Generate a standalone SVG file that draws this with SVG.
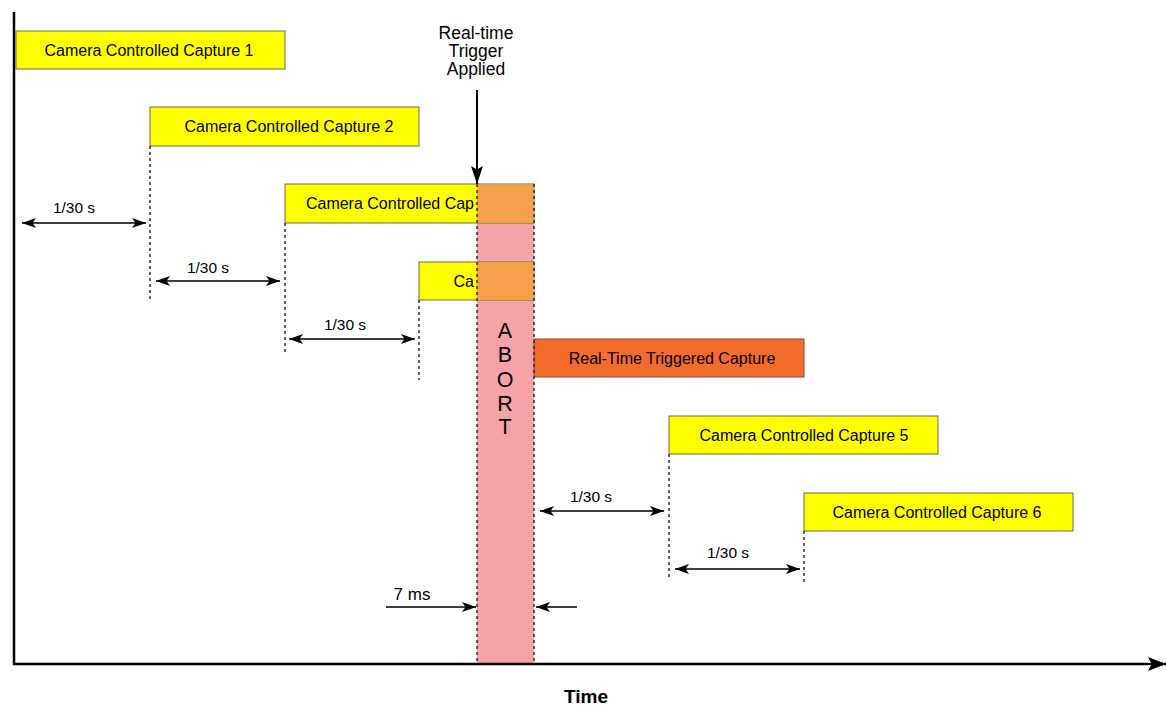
<svg xmlns="http://www.w3.org/2000/svg" width="1167" height="709" viewBox="0 0 1167 709">
<defs>
<marker id="ah" viewBox="0 0 10 10" refX="10" refY="5" markerWidth="14" markerHeight="10" markerUnits="userSpaceOnUse" orient="auto-start-reverse" preserveAspectRatio="none"><path d="M0,0 L10,5 L0,10 L2.5,5 Z" fill="#000"/></marker>
<marker id="ahBig" viewBox="0 0 10 10" refX="10" refY="5" markerWidth="18" markerHeight="14" markerUnits="userSpaceOnUse" orient="auto" preserveAspectRatio="none"><path d="M0,0 L10,5 L0,10 L2,5 Z" fill="#000"/></marker>
<marker id="ahTrig" viewBox="0 0 10 10" refX="10" refY="5" markerWidth="18" markerHeight="12" markerUnits="userSpaceOnUse" orient="auto" preserveAspectRatio="none"><path d="M0,0 L10,5 L0,10 L2,5 Z" fill="#000"/></marker>
<style>
text{font-family:"Liberation Sans",Arial,sans-serif;fill:#000}
.lbl{font-size:16px}
.dl{font-size:15.5px}
.cap{fill:#ffff00;stroke:#6b6b4a;stroke-width:1}
.orn{fill:#f5a04a}
.rt{fill:#f36c2c;stroke:#8a4a2a;stroke-width:1}
.dash{stroke:#222;stroke-width:1.4;stroke-dasharray:3,3;fill:none}
.dim{stroke:#000;stroke-width:1.6;fill:none}
.axis{stroke:#000;stroke-width:2.5;fill:none}
</style>
</defs>
<rect width="1167" height="709" fill="#fff"/>

<g id="abort">
<rect x="477" y="184" width="57" height="480" fill="#f5a3a8"/>
<text x="505" y="338" font-size="21.5" text-anchor="middle">A</text>
<text x="505" y="362" font-size="21.5" text-anchor="middle">B</text>
<text x="505" y="387" font-size="21.5" text-anchor="middle">O</text>
<text x="505" y="411" font-size="21.5" text-anchor="middle">R</text>
<text x="505" y="434" font-size="21.5" text-anchor="middle">T</text>
</g>

<g id="capture1">
<rect class="cap" x="16" y="31" width="269" height="38"/>
<text class="lbl" x="149" y="56" text-anchor="middle">Camera Controlled Capture 1</text>
</g>
<g id="capture2">
<rect class="cap" x="150" y="107" width="269" height="39"/>
<text class="lbl" x="289" y="132" text-anchor="middle">Camera Controlled Capture 2</text>
</g>
<g id="capture3">
<rect class="cap" x="285" y="184" width="249" height="39"/>
<rect class="orn" x="477" y="184.5" width="57" height="38"/>
<text class="lbl" x="474" y="209" text-anchor="end">Camera Controlled Cap</text>
</g>
<g id="capture4">
<rect class="cap" x="419" y="262" width="115" height="38"/>
<rect class="orn" x="477" y="262.5" width="57" height="37"/>
<text class="lbl" x="474" y="287" text-anchor="end">Ca</text>
</g>
<g id="rtcapture">
<rect class="rt" x="534" y="339" width="270" height="38"/>
<text class="lbl" x="672" y="364" text-anchor="middle">Real-Time Triggered Capture</text>
</g>
<g id="capture5">
<rect class="cap" x="669" y="416" width="269" height="38"/>
<text class="lbl" x="804" y="441" text-anchor="middle">Camera Controlled Capture 5</text>
</g>
<g id="capture6">
<rect class="cap" x="804" y="493" width="269" height="38"/>
<text class="lbl" x="937" y="518" text-anchor="middle">Camera Controlled Capture 6</text>
</g>

<g id="trigger">
<text x="476" y="39" font-size="17.5" text-anchor="middle">Real-time</text>
<text x="476" y="57" font-size="17.5" text-anchor="middle">Trigger</text>
<text x="476" y="75" font-size="17.5" text-anchor="middle">Applied</text>
</g>

<g id="connectors">
<line class="axis" x1="14" y1="12" x2="14" y2="665"/>
<line class="axis" x1="13" y1="664" x2="1166" y2="664" marker-end="url(#ahBig)"/>
<line x1="477" y1="90" x2="477" y2="184" stroke="#000" stroke-width="2" marker-end="url(#ahTrig)"/>

<line class="dash" x1="477" y1="184" x2="477" y2="664"/>
<line class="dash" x1="534" y1="184" x2="534" y2="664"/>
<line class="dash" x1="150" y1="146" x2="150" y2="300"/>
<line class="dash" x1="285" y1="223" x2="285" y2="352"/>
<line class="dash" x1="419" y1="300" x2="419" y2="380"/>
<line class="dash" x1="669" y1="454" x2="669" y2="580"/>
<line class="dash" x1="804" y1="531" x2="804" y2="583"/>

<line class="dim" x1="22" y1="223" x2="146" y2="223" marker-start="url(#ah)" marker-end="url(#ah)"/>
<line class="dim" x1="156" y1="281" x2="280" y2="281" marker-start="url(#ah)" marker-end="url(#ah)"/>
<line class="dim" x1="289" y1="339" x2="415" y2="339" marker-start="url(#ah)" marker-end="url(#ah)"/>
<line class="dim" x1="540" y1="511" x2="664" y2="511" marker-start="url(#ah)" marker-end="url(#ah)"/>
<line class="dim" x1="675" y1="569" x2="800" y2="569" marker-start="url(#ah)" marker-end="url(#ah)"/>
<line class="dim" x1="386" y1="607" x2="476" y2="607" marker-end="url(#ah)"/>
<line class="dim" x1="577" y1="607" x2="536" y2="607" marker-end="url(#ah)"/>
</g>

<g id="labels">
<text class="dl" x="74" y="213" text-anchor="middle">1/30 s</text>
<text class="dl" x="208" y="273" text-anchor="middle">1/30 s</text>
<text class="dl" x="345" y="330" text-anchor="middle">1/30 s</text>
<text class="dl" x="591" y="502" text-anchor="middle">1/30 s</text>
<text class="dl" x="728" y="558" text-anchor="middle">1/30 s</text>
<text x="412" y="600" font-size="17" text-anchor="middle">7 ms</text>
<text x="586" y="703" font-size="19" font-weight="bold" text-anchor="middle">Time</text>
</g>
</svg>
